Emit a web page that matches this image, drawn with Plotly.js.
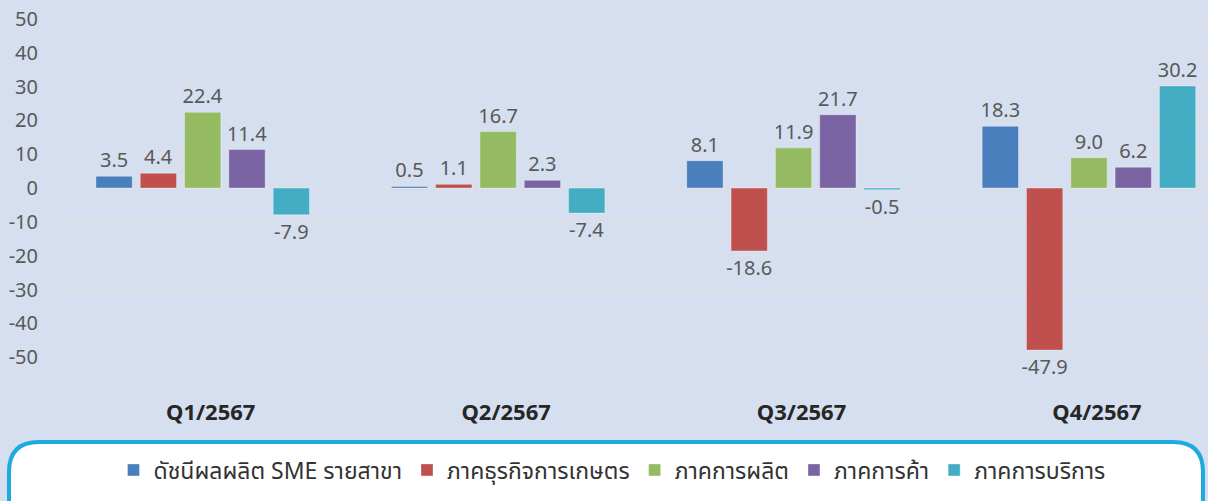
<!DOCTYPE html>
<html>
<head>
<meta charset="utf-8">
<script src="https://cdn.plot.ly/plotly-3.0.1.min.js"></script>
<style>
  html, body { margin: 0; padding: 0; background: #d5dff0; }
  #chart { width: 1208px; height: 501px; }
</style>
</head>
<body>
<div id="chart"></div>
<script>
// ---- data ----
const categories = ["Q1/2567", "Q2/2567", "Q3/2567", "Q4/2567"];
const seriesNames = ["ดัชนีผลผลิต SME รายสาขา", "ภาคธุรกิจการเกษตร", "ภาคการผลิต", "ภาคการค้า", "ภาคการบริการ"];
const smeIndex    = [3.5, 0.5, 8.1, 18.3];
const agriculture = [4.4, 1.1, -18.6, -47.9];
const manufacturing = [22.4, 16.7, 11.9, 9.0];
const trade       = [11.4, 2.3, 21.7, 6.2];
const services    = [-7.9, -7.4, -0.5, 30.2];
const yTickVals   = [50, 40, 30, 20, 10, 0, -10, -20, -30, -40, -50, -60];
const yTickText   = ["50", "40", "30", "20", "10", "0", "-10", "-20", "-30", "-40", "-50", ""];

// ---- styles ----
const colors = ["#4a7fbd", "#c0504d", "#94bb62", "#7b64a3", "#44adc4"];
const FONT = "Noto Sans, 'Noto Sans Thai', Loma, Garuda, 'Open Sans', sans-serif";
const W = 1208, H = 501;
const ML = 55, MB = 110;

const seriesValues = [smeIndex, agriculture, manufacturing, trade, services];
const traces = seriesValues.map((vals, i) => ({
  type: "bar",
  name: seriesNames[i],
  x: categories,
  y: vals,
  marker: { color: colors[i], line: { color: "rgba(255,255,255,0.35)", width: 1 } },
  texttemplate: "%{y:.1f}",
  textposition: "outside",
  constraintext: "none",
  textfont: { family: FONT, size: 20, color: "#595959" },
  cliponaxis: false,
  hoverinfo: "skip"
}));

// legend box in paper coordinates
const plotW = W - ML - 0;
const plotH = H - MB - 0;
function px2x(px) { return (px - ML) / plotW; }
function py2y(py) { return (plotH - py) / plotH; }
const bx0 = 9, bx1 = 1203, by0 = 442, by1 = 540, r = 30;
const boxPath =
  `M ${px2x(bx0 + r)} ${py2y(by0)} L ${px2x(bx1 - r)} ${py2y(by0)} ` +
  `Q ${px2x(bx1)} ${py2y(by0)} ${px2x(bx1)} ${py2y(by0 + r)} ` +
  `L ${px2x(bx1)} ${py2y(by1)} L ${px2x(bx0)} ${py2y(by1)} ` +
  `L ${px2x(bx0)} ${py2y(by0 + r)} ` +
  `Q ${px2x(bx0)} ${py2y(by0)} ${px2x(bx0 + r)} ${py2y(by0)} Z`;

const layout = {
  width: W, height: H,
  paper_bgcolor: "#d5dff0",
  plot_bgcolor: "#d5dff0",
  margin: { l: ML, r: 0, t: 0, b: MB, pad: 0 },
  barmode: "group",
  bargap: 0.25,
  bargroupgap: 0.18,
  showlegend: true,
  legend: {
    orientation: "h",
    x: px2x(612), xanchor: "center",
    y: py2y(470), yanchor: "middle",
    font: { family: FONT, size: 23, color: "#333333" },
    bgcolor: "rgba(0,0,0,0)",
    traceorder: "normal",
    itemclick: false
  },
  xaxis: {
    type: "category",
    range: [-0.5, 3.403],
    showgrid: false,
    zeroline: false,
    showline: false,
    ticks: "",
    tickfont: { family: FONT, size: 22, color: "#262626", weight: "bold" },
    ticklabelstandoff: 6,
    ticklabelshift: 8
  },
  yaxis: {
    range: [-60, 55.62],
    tickvals: yTickVals,
    ticktext: yTickText,
    showgrid: true,
    gridcolor: "#dcdfe6",
    gridwidth: 2,
    zeroline: false,
    showline: false,
    ticks: "",
    tickfont: { family: FONT, size: 20, color: "#595959" },
    ticklabelstandoff: 16
  },
  shapes: [{
    type: "path",
    xref: "paper", yref: "paper",
    path: boxPath,
    fillcolor: "#ffffff",
    line: { color: "#1fa9e1", width: 4 },
    layer: "below"
  }]
};

Plotly.newPlot("chart", traces, layout, { displayModeBar: false, staticPlot: true });
</script>
</body>
</html>
